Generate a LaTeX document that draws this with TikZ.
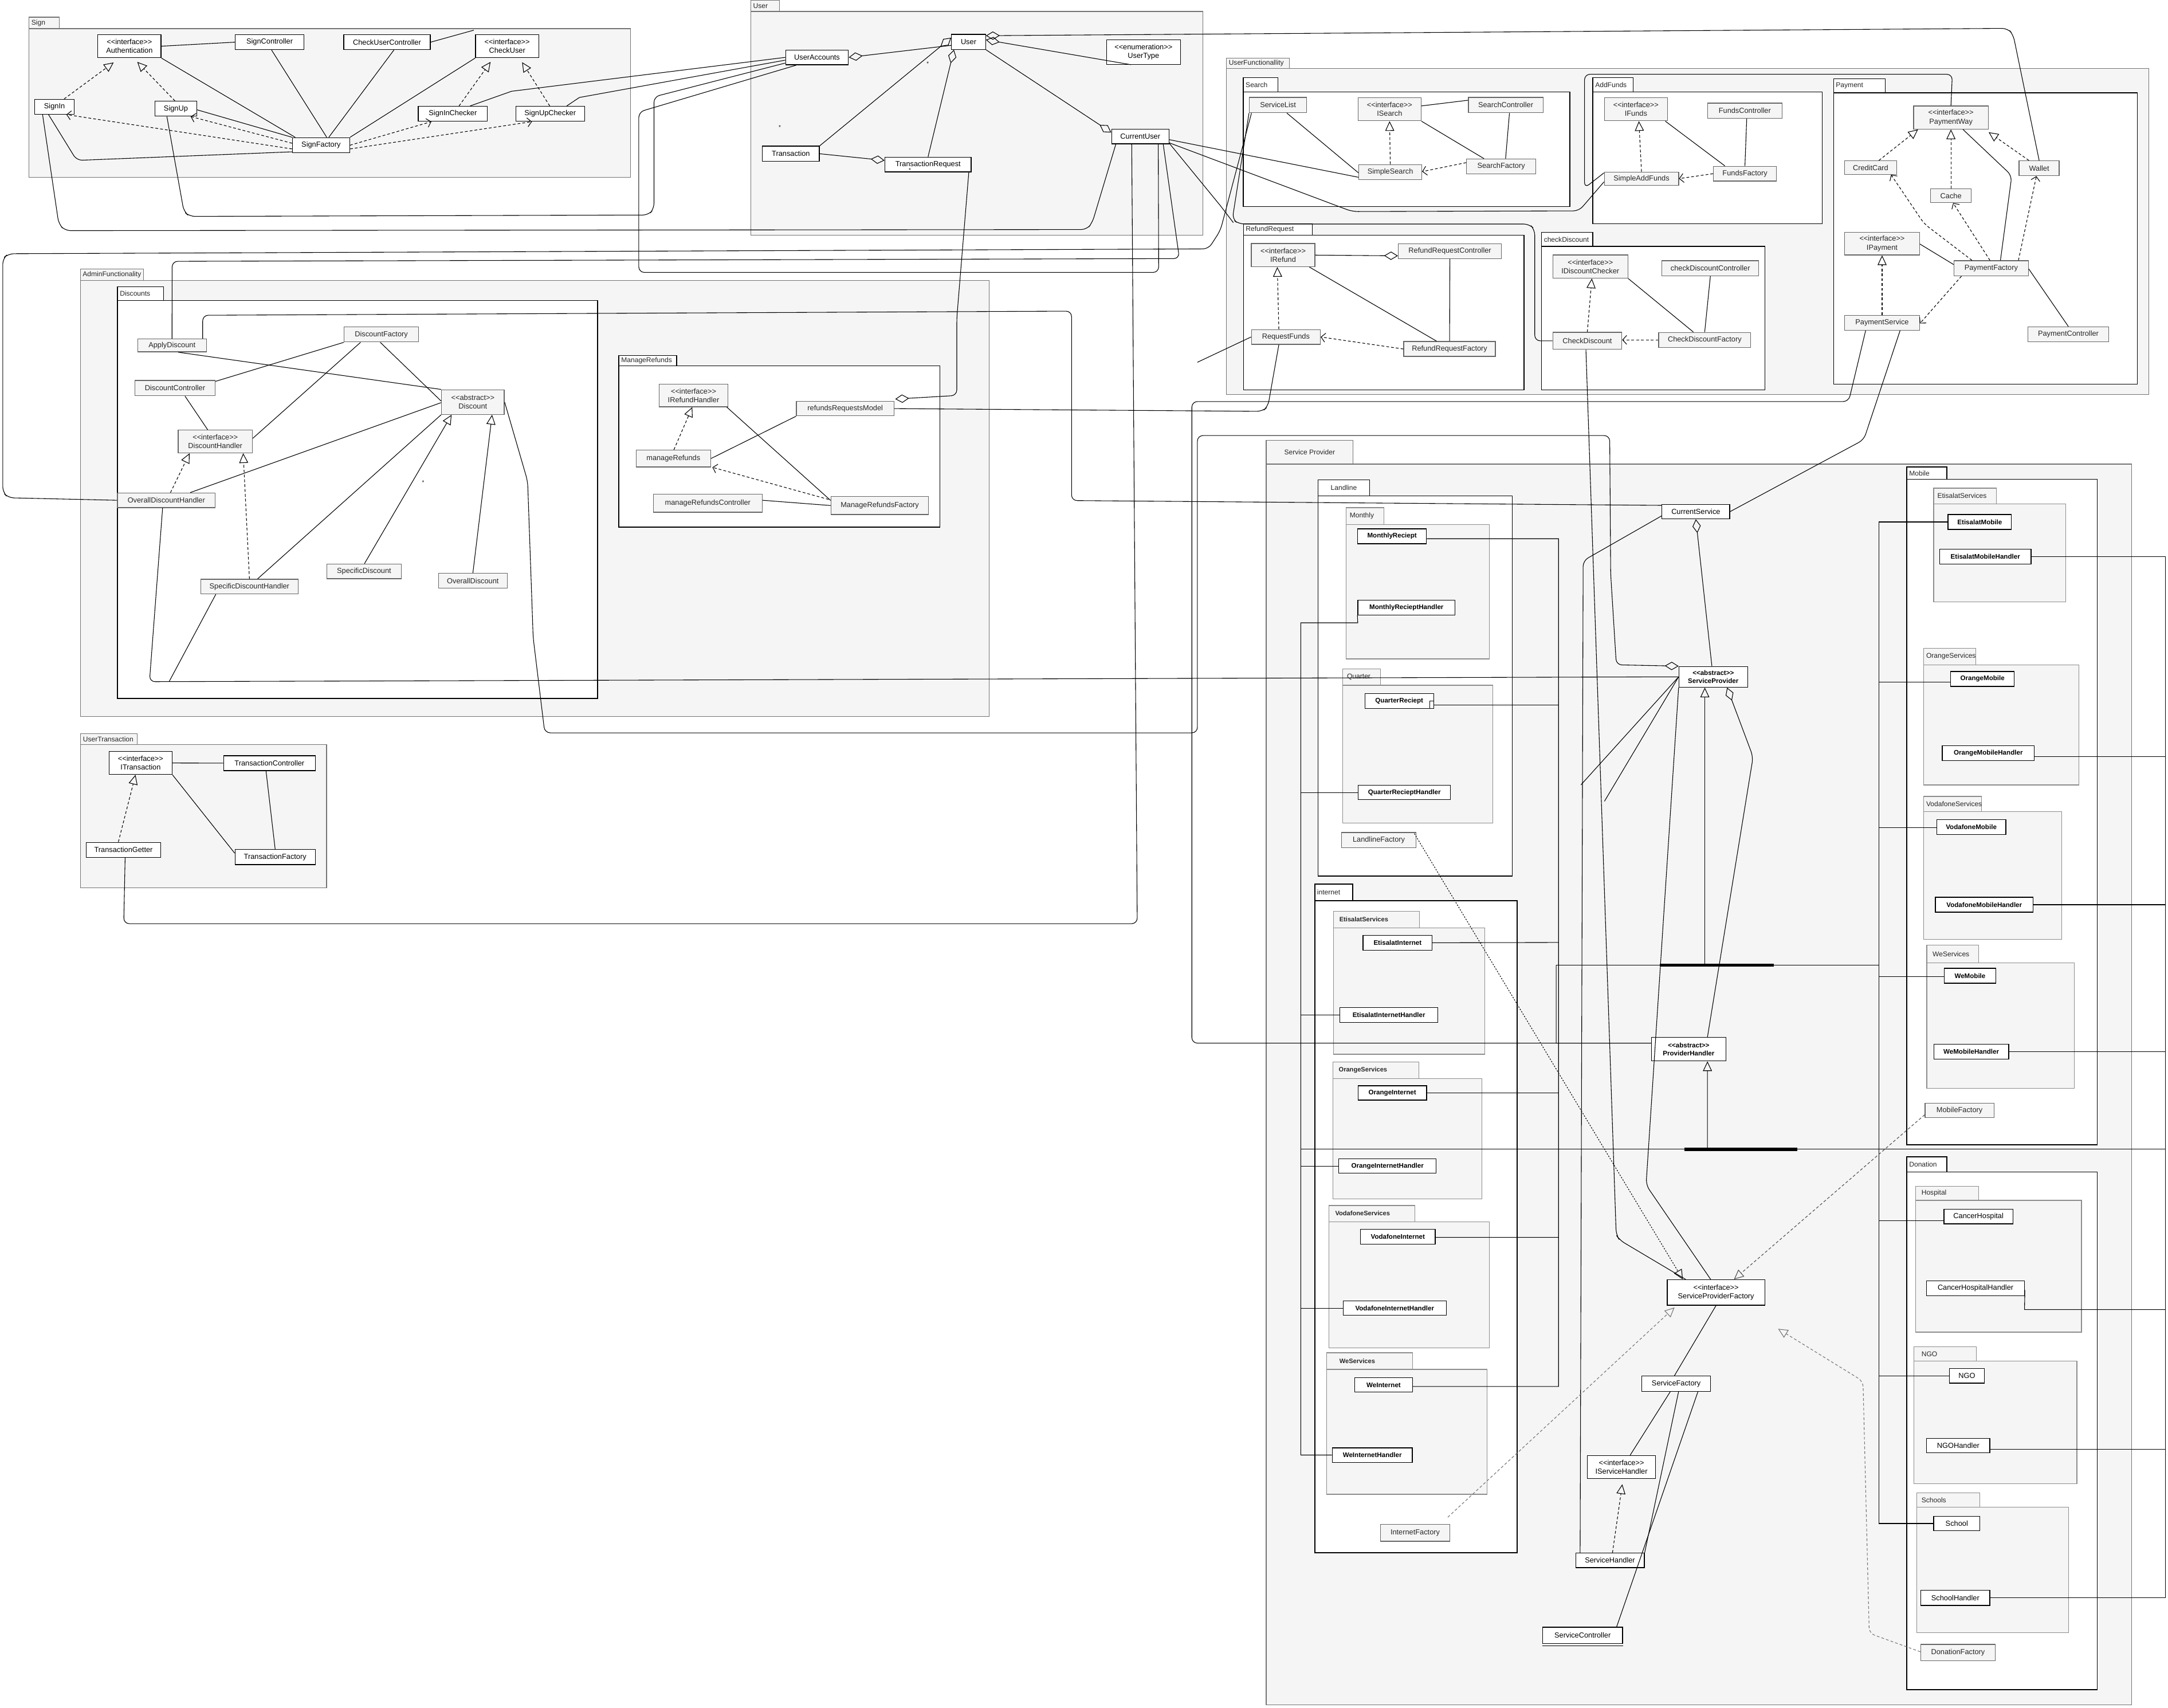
\documentclass[tikz,border=0pt]{standalone}
\usepackage{fontspec}
\setmainfont{Liberation Sans}
\usetikzlibrary{arrows.meta}
\newcommand{\stereo}[1]{<\kern0pt<#1>\kern0pt>}

\tikzset{
  pkg/.style={draw=black!55, fill=black!4, line width=0.5pt},
  subpkg/.style={draw=black, fill=white, line width=0.6pt},
  inpkg/.style={draw=black!45, fill=black!4, line width=0.5pt},
  tabtxt/.style={anchor=west, inner sep=1.5pt, text=black!85, font=\fontsize{5}{6}\selectfont},
  cls/.style={draw, fill=white, line width=0.55pt, inner sep=0.5pt, align=center, font=\fontsize{5.3}{6.3}\selectfont},
  gcls/.style={cls, draw=black!60, fill=black!4, text=black!85},
  bcls/.style={cls, font=\bfseries\fontsize{4.8}{5.8}\selectfont},
  real/.style={dash pattern=on 2pt off 1.5pt, -{Triangle[open, length=7pt, width=6.5pt]}},
  dotreal/.style={dash pattern=on 1pt off 1pt, -{Triangle[open, length=7pt, width=6.5pt]}},
  gen/.style={-{Triangle[open, length=7pt, width=6.5pt]}},
  dep/.style={dash pattern=on 2pt off 1.5pt, -{Straight Barb[length=3pt, width=6.5pt]}},
  agg/.style={{Diamond[open, length=10pt, width=6pt]}-},
  wire/.style={rounded corners=4pt},
  mult/.style={font=\fontsize{4}{4}\selectfont, inner sep=0pt},
}

\begin{document}
\begin{tikzpicture}[x=1pt, y=-1pt, line width=0.45pt]
\useasboundingbox (0,0) rectangle (1568,1235);

% ---------- packages ----------
\draw[pkg] (21,12.4) rectangle (43,20.7);
\draw[pkg] (21,20.7) rectangle (456,128.4);
\node[tabtxt] at (21,16.6) {Sign};

\draw[pkg] (543,0.3) rectangle (563.7,8.3);
\draw[pkg] (543,8.3) rectangle (870,170);
\node[tabtxt] at (543,4.4) {User};

\draw[pkg] (887,41.9) rectangle (932.4,49.6);
\draw[pkg] (887,49.6) rectangle (1554.2,285.4);
\node[tabtxt] at (887,45.8) {UserFunctionallity};
\draw[subpkg] (899.2,56.1) rectangle (924.3,66.4);
\draw[subpkg] (899.2,66.4) rectangle (1135.4,149.4);
\node[tabtxt] at (899.2,61.2) {Search};
\draw[subpkg] (1152,56.1) rectangle (1181.2,66.4);
\draw[subpkg] (1152,66.4) rectangle (1317.9,161.8);
\node[tabtxt] at (1152,61.2) {AddFunds};
\draw[subpkg] (1326.1,57) rectangle (1363.4,67.1);
\draw[subpkg] (1326.1,67.1) rectangle (1545.9,277.8);
\node[tabtxt] at (1326.1,62) {Payment};
\draw[subpkg] (899.3,161.8) rectangle (949.1,170);
\draw[subpkg] (899.3,170) rectangle (1102.3,281.9);
\node[tabtxt] at (899.3,165.9) {RefundRequest};
\draw[subpkg] (1114.9,168) rectangle (1152,178.2);
\draw[subpkg] (1114.9,178.2) rectangle (1276.5,281.9);
\node[tabtxt] at (1114.9,173.1) {checkDiscount};

\draw[pkg] (58.1,194.4) rectangle (103.8,202.9);
\draw[pkg] (58.1,202.9) rectangle (715.5,518.3);
\node[tabtxt] at (58.1,198.6) {AdminFunctionality};
\draw[subpkg] (85,207.5) rectangle (118.3,217.4);
\draw[subpkg] (85,217.4) rectangle (432.2,505.2);
\node[tabtxt] at (85,212.4) {Discounts};
\draw[subpkg] (447.6,257.2) rectangle (489.3,264.5);
\draw[subpkg] (447.6,264.5) rectangle (679.8,381.2);
\node[tabtxt] at (447.6,260.8) {ManageRefunds};

\draw[pkg] (58.3,530.6) rectangle (99.4,538.6);
\draw[pkg] (58.3,538.6) rectangle (236.2,642.2);
\node[tabtxt] at (58.3,534.6) {UserTransaction};

\draw[pkg] (915.8,318.5) rectangle (978.6,335.6);
\draw[pkg] (915.8,335.6) rectangle (1541.7,1233);
\node[tabtxt, anchor=center] at (947.2,327) {Service Provider};

\draw[subpkg] (953.2,347) rectangle (990.5,358.7);
\draw[subpkg] (953.2,358.7) rectangle (1093.8,633.6);
\node[tabtxt, anchor=center] at (971.9,352.9) {Landline};
\draw[inpkg] (973.5,367.1) rectangle (1001,379.2);
\draw[inpkg] (973.5,379.2) rectangle (1077.3,476.5);
\node[tabtxt] at (974.5,373.2) {Monthly};
\draw[inpkg] (971,483.8) rectangle (998.5,495.6);
\draw[inpkg] (971,495.6) rectangle (1079.7,595.4);
\node[tabtxt] at (972.5,489.7) {Quarter};

\draw[subpkg] (950.9,639.3) rectangle (978.4,651.4);
\draw[subpkg] (950.9,651.4) rectangle (1097.2,1122.9);
\node[tabtxt] at (950.9,645.3) {internet};
\draw[inpkg] (964.4,659) rectangle (1026.6,671);
\draw[inpkg] (964.4,671) rectangle (1073.7,762.4);
\node[tabtxt, font=\bfseries\fontsize{4.6}{5}\selectfont] at (967,665) {EtisalatServices};
\draw[inpkg] (964,768) rectangle (1026.2,780.1);
\draw[inpkg] (964,780.1) rectangle (1071.8,867);
\node[tabtxt, font=\bfseries\fontsize{4.6}{5}\selectfont] at (966.5,774) {OrangeServices};
\draw[inpkg] (961.1,871.8) rectangle (1023.2,883.5);
\draw[inpkg] (961.1,883.5) rectangle (1077.1,974.8);
\node[tabtxt, font=\bfseries\fontsize{4.6}{5}\selectfont] at (964,877.6) {VodafoneServices};
\draw[inpkg] (959.6,978.3) rectangle (1021.5,990.3);
\draw[inpkg] (959.6,990.3) rectangle (1075.4,1080.7);
\node[tabtxt, font=\bfseries\fontsize{4.6}{5}\selectfont] at (967,984.3) {WeServices};

\draw[subpkg] (1379.1,337.8) rectangle (1408.1,346.7);
\draw[subpkg] (1379.1,346.7) rectangle (1516.9,828);
\node[tabtxt] at (1379.1,342.2) {Mobile};
\draw[inpkg] (1398.5,353) rectangle (1444,364.5);
\draw[inpkg] (1398.5,364.5) rectangle (1494,435.2);
\node[tabtxt] at (1399.5,358.7) {EtisalatServices};
\draw[inpkg] (1391.4,468.8) rectangle (1428.9,480.9);
\draw[inpkg] (1391.4,480.9) rectangle (1503.6,567.7);
\node[tabtxt] at (1391.4,474.8) {OrangeServices};
\draw[inpkg] (1391.4,576) rectangle (1433.1,587.1);
\draw[inpkg] (1391.4,587.1) rectangle (1491.1,679.4);
\node[tabtxt] at (1391.4,581.5) {VodafoneServices};
\draw[inpkg] (1393.5,683.5) rectangle (1431.1,696.2);
\draw[inpkg] (1393.5,696.2) rectangle (1500.3,787.2);
\node[tabtxt] at (1396,689.8) {WeServices};

\draw[subpkg] (1379.1,836.7) rectangle (1408,847.7);
\draw[subpkg] (1379.1,847.7) rectangle (1516.7,1222);
\node[tabtxt] at (1379.1,842.2) {Donation};
\draw[inpkg] (1385.4,857.9) rectangle (1431,868.1);
\draw[inpkg] (1385.4,868.1) rectangle (1505.4,963.4);
\node[tabtxt] at (1388,863) {Hospital};
\draw[inpkg] (1384.2,974.1) rectangle (1429.5,984.3);
\draw[inpkg] (1384.2,984.3) rectangle (1502.1,1073);
\node[tabtxt] at (1388,979.2) {NGO};
\draw[inpkg] (1386.3,1079.8) rectangle (1431.9,1090);
\draw[inpkg] (1386.3,1090) rectangle (1496.1,1180.7);
\node[tabtxt] at (1388,1084.9) {Schools};

% ---------- Sign ----------
\node[cls, minimum width=45.7, minimum height=16.6] (auth) at (93.6,33.4) {\stereo{interface}\\Authentication};
\node[cls, minimum width=49.7, minimum height=10.8] (signctrl) at (195,30.5) {SignController};
\node[cls, minimum width=62.5, minimum height=10.8] (checkuserctrl) at (279.9,30.5) {CheckUserController};
\node[cls, minimum width=45.7, minimum height=16.6] (checkuser) at (366.8,33.4) {\stereo{interface}\\CheckUser};
\node[cls, minimum width=28.6, minimum height=10.8] (signin) at (39.4,77.2) {SignIn};
\node[cls, minimum width=30, minimum height=10.8] (signup) at (127.2,78.6) {SignUp};
\node[cls, minimum width=50, minimum height=10.8] (signinchecker) at (327.5,82.3) {SignInChecker};
\node[cls, minimum width=49.7, minimum height=10.8] (signupchecker) at (397.9,82.3) {SignUpChecker};
\node[cls, minimum width=41.4, minimum height=10.9] (signfactory) at (232.2,105) {SignFactory};

% ---------- User ----------
\node[cls, minimum width=45.4, minimum height=10.7] (useraccounts) at (590.9,41.5) {UserAccounts};
\node[cls, minimum width=24.6, minimum height=10.8] (user) at (700.5,30.3) {User};
\node[cls, minimum width=53.4, minimum height=17.8] (usertype) at (827,37.6) {\stereo{enumeration}\\UserType};
\node[cls, minimum width=41.2, minimum height=11] (transaction) at (572,111.2) {Transaction};
\node[cls, minimum width=62.4, minimum height=10.6] (transreq) at (671.2,119) {TransactionRequest};
\node[cls, minimum width=41.4, minimum height=10.5] (currentuser) at (824.7,98.8) {CurrentUser};

% ---------- UserFunctionallity ----------
\node[gcls, minimum width=41.4, minimum height=11] (servicelist) at (924.3,76) {ServiceList};
\node[gcls, minimum width=45.5, minimum height=16.7] (isearch) at (1005,79) {\stereo{interface}\\ISearch};
\node[gcls, minimum width=54, minimum height=11] (searchctrl) at (1089,76) {SearchController};
\node[gcls, minimum width=45.5, minimum height=11] (simplesearch) at (1005.5,124.5) {SimpleSearch};
\node[gcls, minimum width=50, minimum height=10.8] (searchfactory) at (1085.7,120.4) {SearchFactory};
\node[gcls, minimum width=45.5, minimum height=16.7] (ifunds) at (1183.2,79) {\stereo{interface}\\IFunds};
\node[gcls, minimum width=54, minimum height=11] (fundsctrl) at (1261.9,80.1) {FundsController};
\node[gcls, minimum width=53.7, minimum height=9.6] (simpleaddfunds) at (1187.2,129.2) {SimpleAddFunds};
\node[gcls, minimum width=45.5, minimum height=10.7] (fundsfactory) at (1262,125.6) {FundsFactory};
\node[gcls, minimum width=54, minimum height=16.7] (paymentway) at (1411,85) {\stereo{interface}\\PaymentWay};
\node[gcls, minimum width=37.5, minimum height=9.8] (creditcard) at (1352.9,121.2) {CreditCard};
\node[gcls, minimum width=29, minimum height=10.8] (wallet) at (1474.8,121.7) {Wallet};
\node[gcls, minimum width=29.3, minimum height=9.9] (cache) at (1411,141.6) {Cache};
\node[gcls, minimum width=54.2, minimum height=16.4] (ipayment) at (1361.2,176.2) {\stereo{interface}\\IPayment};
\node[gcls, minimum width=53.8, minimum height=10.9] (paymentfactory) at (1440.1,194) {PaymentFactory};
\node[gcls, minimum width=54.2, minimum height=10.8] (paymentservice) at (1361.2,233.4) {PaymentService};
\node[gcls, minimum width=58.3, minimum height=10.7] (paymentctrl) at (1495.9,241.7) {PaymentController};
\node[gcls, minimum width=54.2, minimum height=16.7] (idiscountchecker) at (1150.2,192.8) {\stereo{interface}\\IDiscountChecker};
\node[gcls, minimum width=70, minimum height=11] (checkdiscountctrl) at (1237,194) {checkDiscountController};
\node[gcls, minimum width=49.9, minimum height=12.3] (checkdiscount) at (1148,246.5) {CheckDiscount};
\node[gcls, minimum width=66.5, minimum height=10.8] (checkdiscountfactory) at (1232.9,245.8) {CheckDiscountFactory};
\node[gcls, minimum width=45.9, minimum height=16.7] (irefund) at (928,184.5) {\stereo{interface}\\IRefund};
\node[gcls, minimum width=74.6, minimum height=10.8] (refundrequestctrl) at (1048.6,181.6) {RefundRequestController};
\node[gcls, minimum width=49.8, minimum height=10.7] (requestfunds) at (930,243.7) {RequestFunds};
\node[gcls, minimum width=66.3, minimum height=10.8] (refundrequestfactory) at (1048.4,252.4) {RefundRequestFactory};

% ---------- AdminFunctionality ----------
\node[gcls, minimum width=49.7, minimum height=9.3] (applydiscount) at (124.4,249.8) {ApplyDiscount};
\node[gcls, minimum width=53.7, minimum height=10.8] (discountfactory) at (275.8,241.9) {DiscountFactory};
\node[gcls, minimum width=58, minimum height=11] (discountctrl) at (126.6,280.7) {DiscountController};
\node[gcls, minimum width=45.4, minimum height=17.8] (discount) at (342,290.8) {\stereo{abstract}\\Discount};
\node[gcls, minimum width=53.7, minimum height=16.5] (discounthandler) at (155.7,319.3) {\stereo{interface}\\DiscountHandler};
\node[gcls, minimum width=70.6, minimum height=10.6] (overalldiscounthandler) at (120.3,361.8) {OverallDiscountHandler};
\node[gcls, minimum width=70.4, minimum height=10.6] (specificdiscounthandler) at (180.4,424.2) {SpecificDiscountHandler};
\node[gcls, minimum width=54, minimum height=10.6] (specificdiscount) at (263.3,413.2) {SpecificDiscount};
\node[gcls, minimum width=49.7, minimum height=10.6] (overalldiscount) at (342,420) {OverallDiscount};
\node[gcls, minimum width=49.9, minimum height=16.3] (irefundhandler) at (501.6,286) {\stereo{interface}\\IRefundHandler};
\node[gcls, minimum width=70.6, minimum height=10.5] (refundsmodel) at (611.3,295.5) {refundsRequestsModel};
\node[gcls, minimum width=53.9, minimum height=12.2] (managerefunds) at (487,331.6) {manageRefunds};
\node[gcls, minimum width=78.8, minimum height=13] (managerefundsctrl) at (511.9,363.9) {manageRefundsController};
\node[gcls, minimum width=70.6, minimum height=13.1] (managerefundsfactory) at (636.3,365.6) {ManageRefundsFactory};

% ---------- UserTransaction ----------
\node[cls, minimum width=45.5, minimum height=16.5] (itransaction) at (101.7,551.8) {\stereo{interface}\\ITransaction};
\node[cls, minimum width=66.3, minimum height=10.8] (transactionctrl) at (194.9,551.9) {TransactionController};
\node[cls, minimum width=53.8, minimum height=10.8] (transactiongetter) at (89.3,614.6) {TransactionGetter};
\node[cls, minimum width=58, minimum height=10.9] (transactionfactory) at (199,619.8) {TransactionFactory};

% ---------- Service Provider ----------
\node[bcls, minimum width=49.7, minimum height=10.8] (monthlyreciept) at (1006.8,387.8) {MonthlyReciept};
\node[bcls, minimum width=70.4, minimum height=10.8] (monthlyhandler) at (1017.2,439.4) {MonthlyRecieptHandler};
\node[bcls, minimum width=49.7, minimum height=10.6] (quarterreciept) at (1012,507) {QuarterReciept};
\node[bcls, minimum width=66.6, minimum height=10.4] (quarterhandler) at (1015.7,573.1) {QuarterRecieptHandler};
\node[gcls, minimum width=53.9, minimum height=11] (landlinefactory) at (997.2,607.6) {LandlineFactory};
\node[bcls, minimum width=49.9, minimum height=10.8] (etisalatinternet) at (1010.8,681.8) {EtisalatInternet};
\node[bcls, minimum width=70.8, minimum height=10.8] (etisalatinternethandler) at (1004.5,734.1) {EtisalatInternetHandler};
\node[bcls, minimum width=49.7, minimum height=10.4] (orangeinternet) at (1007,790.4) {OrangeInternet};
\node[bcls, minimum width=70.4, minimum height=10.5] (orangeinternethandler) at (1003.5,843.3) {OrangeInternetHandler};
\node[bcls, minimum width=54.1, minimum height=10.8] (vodafoneinternet) at (1011,894.3) {VodafoneInternet};
\node[bcls, minimum width=74.6, minimum height=10.4] (vodafoneinternethandler) at (1008.7,946.1) {VodafoneInternetHandler};
\node[bcls, minimum width=41.6, minimum height=10.4] (weinternet) at (1000.7,1001.6) {WeInternet};
\node[bcls, minimum width=57.9, minimum height=10.5] (weinternethandler) at (992.5,1052.3) {WeInternetHandler};
\node[gcls, minimum width=50.1, minimum height=12.4] (internetfactory) at (1023.5,1108.5) {InternetFactory};

\node[bcls, minimum width=45.9, minimum height=10.8] (etisalatmobile) at (1431.8,377.5) {EtisalatMobile};
\node[bcls, minimum width=66.2, minimum height=10.8] (etisalatmobilehandler) at (1435.9,402.5) {EtisalatMobileHandler};
\node[bcls, minimum width=45.9, minimum height=10.8] (orangemobile) at (1433.8,491) {OrangeMobile};
\node[bcls, minimum width=66.6, minimum height=10.8] (orangemobilehandler) at (1438,544.6) {OrangeMobileHandler};
\node[bcls, minimum width=50, minimum height=10.8] (vodafonemobile) at (1425.7,598.2) {VodafoneMobile};
\node[bcls, minimum width=70.7, minimum height=10.8] (vodafonemobilehandler) at (1435.1,654.3) {VodafoneMobileHandler};
\node[bcls, minimum width=37.5, minimum height=10.8] (wemobile) at (1424.8,705.7) {WeMobile};
\node[bcls, minimum width=54.2, minimum height=10.8] (wemobilehandler) at (1425.7,760.5) {WeMobileHandler};
\node[gcls, minimum width=49.8, minimum height=10.2] (mobilefactory) at (1417.2,803) {MobileFactory};

\node[cls, minimum width=49.8, minimum height=10.7] (cancerhospital) at (1430.9,879.8) {CancerHospital};
\node[cls, minimum width=70.8, minimum height=10.9] (cancerhospitalhandler) at (1428.8,931.7) {CancerHospitalHandler};
\node[cls, minimum width=25.4, minimum height=10.7] (ngo) at (1422.5,995) {NGO};
\node[cls, minimum width=45.7, minimum height=10.5] (ngohandler) at (1416.3,1045.4) {NGOHandler};
\node[cls, minimum width=33.4, minimum height=10.4] (school) at (1415.2,1101.8) {School};
\node[cls, minimum width=49.9, minimum height=10.9] (schoolhandler) at (1414.2,1155.6) {SchoolHandler};
\node[gcls, minimum width=53.8, minimum height=11.9] (donationfactory) at (1416.1,1195.2) {DonationFactory};

\node[cls, minimum width=49, minimum height=10.5] (currentservice) at (1226.5,370) {CurrentService};
\node[bcls, minimum width=49.6, minimum height=15] (serviceprovider) at (1239.1,489.5) {\stereo{abstract}\\ServiceProvider};
\node[bcls, minimum width=54, minimum height=17] (providerhandler) at (1221.3,758.8) {\stereo{abstract}\\ProviderHandler};
\node[cls, minimum width=70.5, minimum height=18.4] (spfactory) at (1241.1,934.7) {\stereo{interface}\\ServiceProviderFactory};
\node[cls, minimum width=49.8, minimum height=11] (servicefactory) at (1212.3,1000.7) {ServiceFactory};
\node[cls, minimum width=49.5, minimum height=16.5] (iservicehandler) at (1172.7,1060.9) {\stereo{interface}\\IServiceHandler};
\node[cls, minimum width=49.6, minimum height=10.5] (servicehandler) at (1164.4,1128.5) {ServiceHandler};
\node[cls, minimum width=57.9, minimum height=11.7] (servicecontroller) at (1144.6,1182.7) {ServiceController};
\draw[line width=0.5pt] ([shift={(0,1.3)}]servicecontroller.south west) -- ([shift={(0,1.3)}]servicecontroller.south east);
\draw[line width=0.5pt] (1034.2,507.1) rectangle (1037,512.3);

\node[mult] at (564,92) {*};
\node[mult] at (671,46) {*};
\node[mult] at (658,123) {*};
\node[mult] at (306,349) {*};

% ---------- Sign connectors ----------
\draw (auth.east) -- (signctrl.west);
\draw (checkuserctrl.east) -- ([shift={(-1,-3)}]checkuser.north west);
\draw[real] ([xshift=7]signin.north) -- ([shift={(-11.4,3.2)}]auth.south);
\draw[real] ([xshift=-0.7]signup.north) -- ([shift={(5.7,2.8)}]auth.south);
\draw[real] ([xshift=4.5]signinchecker.north) -- ([shift={(-12,2.8)}]checkuser.south);
\draw[real] ([xshift=-0.3]signupchecker.north) -- ([shift={(10.8,3)}]checkuser.south);
\draw[dep] ([shift={(0,2.7)}]signfactory.west) -- ([xshift=8.6]signin.south);
\draw[dep] ([shift={(0,-1.4)}]signfactory.west) -- ([xshift=10.7]signup.south);
\draw[dep] (signfactory.east) -- ([xshift=-15.5]signinchecker.south);
\draw[dep] ([shift={(0,2.7)}]signfactory.east) -- ([xshift=-13.2]signupchecker.south);
\draw (auth.south east) -- ([xshift=-18.7]signfactory.north);
\draw ([xshift=1.4]signctrl.south) -- ([xshift=4.1]signfactory.north);
\draw ([xshift=5]checkuserctrl.south) -- ([xshift=5.6]signfactory.north);
\draw (checkuser.south west) -- (signfactory.north east);
\draw ([shift={(0,0.8)}]signup.east) -- (signfactory.north west);
\draw[wire] ([xshift=-4.3]signin.south) -- (55.5,116) -- ([shift={(0,4.8)}]signfactory.west);
\draw[wire] ([xshift=-8.6]signin.south) -- (42.5,162) -- (47,166.8) -- (786,166) -- (790,161) -- ([xshift=-17.7]currentuser.south);
\draw[wire] ([xshift=-6.5]signup.south) -- (133,153) -- (137,156.5) -- (469,155.5) -- (473,151) -- (473,70) -- ([shift={(0,4.1)}]useraccounts.west);
\draw ([xshift=12.5]signinchecker.north) -- (370,66) -- (useraccounts.west);
\draw ([xshift=12]signupchecker.north) -- (419,70.5) -- ([shift={(0,2)}]useraccounts.west);

% ---------- User connectors ----------
\draw[agg] (useraccounts.east) -- ([shift={(0,2.5)}]user.west);
\draw[agg] ([shift={(0,-3)}]user.west) -- (transaction.north east);
\draw[agg] ([xshift=2]user.south west) -- (transreq.north);
\draw[agg] ([shift={(0,-3)}]transreq.west) -- (transaction.east);
\draw[agg] ([shift={(0,-3)}]currentuser.west) -- (user.south east);
\draw[agg] ([shift={(0,-1.5)}]user.east) -- ([xshift=-9]usertype.south);
\draw[agg, wire] ([shift={(0,-4.5)}]user.east) -- (1452,20.5) -- (1456,25) -- (wallet.north);
\draw[wire] ([xshift=-15]useraccounts.south) -- (462,81) -- (462,197) -- (838,197) -- ([xshift=13]currentuser.south);

% ---------- UserFunctionallity connectors ----------
\draw ([xshift=6.4]servicelist.south) -- ([shift={(0,0.5)}]simplesearch.west);
\draw ([shift={(0,-2.4)}]isearch.east) -- ([shift={(0,-3.5)}]searchctrl.west);
\draw (isearch.south east) -- ([xshift=-12.4]searchfactory.north);
\draw ([xshift=2.7]searchctrl.south) -- ([xshift=3.2]searchfactory.north);
\draw[real] (simplesearch.north) -- (isearch.south);
\draw[dep] ([shift={(0,-2.8)}]searchfactory.west) -- ([shift={(0,-0.4)}]simplesearch.east);
\draw ([shift={(0,2.2)}]currentuser.east) -- ([shift={(0,3.7)}]simplesearch.west);
\draw[wire] ([shift={(0,4.5)}]currentuser.east) -- (978,153) -- (1142,152.5) -- ([shift={(0,2.3)}]simpleaddfunds.west);
\draw[wire] ([shift={(0,-4.2)}]simpleaddfunds.west) -- (1146,136) -- (1146,53.7) -- (1412,53.7) -- (paymentway.north);
\draw[real] (simpleaddfunds.north) -- ([xshift=2.1]ifunds.south);
\draw ([xshift=21.2]ifunds.south) -- ([xshift=-14.5]fundsfactory.north);
\draw ([xshift=1.4]fundsctrl.south) -- (fundsfactory.north);
\draw[dep] (fundsfactory.west) -- (simpleaddfunds.east);
\draw[real] ([xshift=6]creditcard.north) -- ([xshift=-23.8]paymentway.south);
\draw[real] (cache.north) -- (paymentway.south);
\draw[real] ([xshift=-7.4]wallet.north) -- ([shift={(0,2)}]paymentway.south east);
\draw[wire] ([xshift=8.7]paymentway.south) -- (1455,127) -- ([xshift=6.7]paymentfactory.north);
\draw[dep, wire] ([xshift=-13.9]paymentfactory.north) -- (1391.6,161.8) -- ([xshift=14.8]creditcard.south);
\draw[dep] ([xshift=-0.9]paymentfactory.north) -- ([xshift=1.6]cache.south);
\draw[dep] ([xshift=19.7]paymentfactory.north) -- ([xshift=-2]wallet.south);
\draw ([shift={(0,0.3)}]ipayment.east) -- ([shift={(0,-2.7)}]paymentfactory.west);
\draw[dep] ([xshift=-21.5]paymentfactory.south) -- ([shift={(0,0.5)}]paymentservice.east);
\draw[real] (paymentservice.north) -- (ipayment.south);
\draw ([shift={(0,0.5)}]paymentfactory.east) -- (paymentctrl.north);
\draw[real] (checkdiscount.north) -- ([xshift=1.1]idiscountchecker.south);
\draw (idiscountchecker.south east) -- ([xshift=-8.2]checkdiscountfactory.north);
\draw (checkdiscountctrl.south) -- (checkdiscountfactory.north);
\draw[dep] (checkdiscountfactory.west) -- ([shift={(0,-0.7)}]checkdiscount.east);
\draw[agg] ([shift={(0,3.4)}]refundrequestctrl.west) -- (irefund.east);
\draw ([xshift=19]irefund.south) -- ([xshift=-9.4]refundrequestfactory.north);
\draw (refundrequestctrl.south) -- (refundrequestfactory.north);
\draw[real] ([xshift=-5.1]requestfunds.north) -- ([xshift=-4.2]irefund.south);
\draw[dep] (refundrequestfactory.west) -- (requestfunds.east);
\draw[wire] (servicelist.south west) -- (891.3,158.5) -- (896,162) -- (1106,162) -- (1110,166) -- (1110,246.5) -- (checkdiscount.west);
\draw ([shift={(0,4.8)}]currentuser.east) -- (882.6,148.7) -- (892,161);
\draw (requestfunds.west) -- (866,262);
\draw[wire] ([xshift=-11.9]paymentservice.south) -- (1337,290.4) -- (862,290.4) -- (862,754.4) -- ([shift={(0,-4.4)}]providerhandler.west);

% ---------- AdminFunctionality connectors ----------
\draw (discountfactory.south west) -- ([shift={(0,-4.9)}]discountctrl.east);
\draw ([xshift=-15]discountfactory.south) -- ([shift={(0,-2.3)}]discounthandler.east);
\draw ([xshift=-0.8]discountfactory.south) -- ([shift={(0,-0.8)}]discount.west);
\draw ([xshift=4.4]applydiscount.south) -- (discount.north west);
\draw ([xshift=7.2]discountctrl.south) -- ([xshift=-5.5]discounthandler.north);
\draw[real] ([xshift=3]overalldiscounthandler.north) -- ([xshift=-18.6]discounthandler.south);
\draw[real] (specificdiscounthandler.north) -- ([xshift=20.2]discounthandler.south);
\draw ([xshift=17.3]overalldiscounthandler.north) -- ([shift={(0,0.4)}]discount.west);
\draw ([xshift=5.9]specificdiscounthandler.north) -- (discount.south west);
\draw[gen] ([xshift=0.3]specificdiscount.north) -- ([xshift=-15.4]discount.south);
\draw[gen] (overalldiscount.north) -- ([xshift=13.9]discount.south);
\draw[real] ([xshift=0.4]managerefunds.north) -- ([xshift=-0.9]irefundhandler.south);
\draw ([xshift=-1.2]irefundhandler.south east) -- ([shift={(0,-3.7)}]managerefundsfactory.west);
\draw (managerefunds.east) -- (refundsmodel.south west);
\draw[dep] ([shift={(-1.4,-4.4)}]managerefundsfactory.west) -- ([xshift=1]managerefunds.south east);
\draw ([shift={(0,-2.1)}]managerefundsctrl.east) -- (managerefundsfactory.west);
\draw[agg, wire] ([shift={(0.6,-6.9)}]refundsmodel.east) -- (692,286) -- (692,230) -- ([xshift=-2]transreq.south east);
\draw[wire] (refundsmodel.east) -- (913,297.5) -- (917,294) -- ([xshift=-5.1]requestfunds.south);
\draw[wire] (overalldiscounthandler.west) -- (6,360) -- (2,356) -- (2,187) -- (6,183.5) -- (874,180) -- (882.6,166.7) -- ([xshift=1.8]servicelist.south west);
\draw[wire] (applydiscount.north) -- (124.5,189) -- (853,187) -- ([xshift=16.6]currentuser.south);
\draw[wire] ([xshift=22.2]applydiscount.north) -- (146.6,228) -- (775,225) -- (775,362) -- ([shift={(0,1)}]currentservice.north west);
\draw[agg, wire] (serviceprovider.north west) -- (1169,480.8) -- (1164.9,415) -- (1164.2,315) -- (866,315) -- (866,530) -- (394,530) -- (385.6,461) -- (381.6,348) -- (discount.east);
\draw[wire] ([xshift=-2.7]overalldiscounthandler.south) -- (108.1,493) -- (1205,489.5) -- (serviceprovider.west);
\draw ([xshift=-24.3]specificdiscounthandler.south) -- (122.4,492.8);

% ---------- UserTransaction connectors ----------
\draw (itransaction.east) -- (transactionctrl.west);
\draw (itransaction.south east) -- ([shift={(0,-2.8)}]transactionfactory.west);
\draw ([xshift=-2.5]transactionctrl.south) -- (transactionfactory.north);
\draw[real] ([xshift=-3.7]transactiongetter.north) -- ([xshift=-3.7]itransaction.south);
\draw[wire] ([xshift=1.2]transactiongetter.south) -- (89.5,668) -- (822.5,668) -- ([xshift=-6.2]currentuser.south);

% ---------- Service Provider connectors ----------
\draw[agg] (currentservice.south) -- ([xshift=-1]serviceprovider.north);
\draw[wire] ([shift={(0,3.1)}]currentservice.west) -- (1145,405.5) -- (1142.8,1123.3);
\draw[wire] (currentservice.east) -- (1348,318) -- ([xshift=13]paymentservice.south);
\draw[wire] ([xshift=-1]checkdiscount.south) -- (1168.9,893.1) -- (1171.3,896.8) -- ([xshift=-22]spfactory.north);
\draw[wire] (serviceprovider.south west) -- (1190.5,857) -- ([xshift=-3.9]spfactory.north);
\draw (serviceprovider.west) -- (1143.4,567.6);
\draw (serviceprovider.west) -- (1160.4,579.5);
\draw[agg, wire] ([xshift=10]serviceprovider.south) -- (1267.9,547.4) -- ([xshift=13.6]providerhandler.north);
\draw[gen] (1233,698) -- ([xshift=-6.1]serviceprovider.south);
\draw (1125.5,698) -- (1359.1,698);
\draw[line width=2.2pt] (1200.5,698) -- (1283,698);
\draw (1125.5,698) -- (1125.5,754.4) -- ([shift={(0,-4.4)}]providerhandler.west);

% products
\draw ([shift={(0,1.8)}]monthlyreciept.east) -- (1127.2,389.6) -- (1127.2,1002.7) -- ([shift={(0,1.1)}]weinternet.east);
\draw ([shift={(0,2.7)}]quarterreciept.east) -- (1127.2,509.7);
\draw (etisalatinternet.east) -- (1127.2,681.6);
\draw (orangeinternet.east) -- (1127.2,790.4);
\draw ([shift={(0,0.6)}]vodafoneinternet.east) -- (1127.2,894.9);
\draw (etisalatmobile.west) -- (1359.1,377.5) -- (1359.1,1101.8) -- (school.west);
\draw ([shift={(0,2.2)}]orangemobile.west) -- (1359.1,493.2);
\draw ([shift={(0,0.3)}]vodafonemobile.west) -- (1359.1,598.5);
\draw ([shift={(0,0.6)}]wemobile.west) -- (1359.1,706.3);
\draw ([shift={(0,2.9)}]cancerhospital.west) -- (1359.1,882.7);
\draw (ngo.west) -- (1359.1,995);

% handlers
\draw (monthlyhandler.south west) -- (982,450.4) -- (940.8,450.4) -- (940.8,1052.3) -- (weinternethandler.west);
\draw (quarterhandler.west) -- (940.8,573.1);
\draw (etisalatinternethandler.west) -- (940.8,734.1);
\draw (orangeinternethandler.west) -- (940.8,843.3);
\draw (vodafoneinternethandler.west) -- (940.8,946.1);
\draw (etisalatmobilehandler.east) -- (1566.3,402.5) -- (1566.3,1155.6) -- (schoolhandler.east);
\draw ([shift={(0,2.5)}]orangemobilehandler.east) -- (1566.3,547.1);
\draw (vodafonemobilehandler.east) -- (1566.3,654.3);
\draw (wemobilehandler.east) -- (1566.3,760.5);
\draw ([shift={(0,1.3)}]cancerhospitalhandler.east) -- (1464.2,947.1) -- (1566.3,947.1);
\draw ([shift={(0,2.8)}]ngohandler.east) -- (1566.3,1048.2);
\draw (940.8,831.2) -- (1566.3,831.2);
\draw[line width=2.2pt] (1218.1,831.2) -- (1300,831.2);
\draw[gen] (1234.9,831.2) -- ([xshift=13.6]providerhandler.south);

% factories
\draw[dotreal] ([shift={(-1.5,1)}]landlinefactory.north east) -- ([xshift=-24]spfactory.north);
\draw[real, black!70] ([shift={(0,3.2)}]mobilefactory.west) -- ([xshift=13]spfactory.north);
\draw[real, black!55] ([shift={(-1.7,-4.8)}]internetfactory.north east) -- ([shift={(5.5,1.4)}]spfactory.south west);
\coordinate (dontip) at (1286,961);
\draw[real, black!55, wire] ([shift={(0,-0.6)}]donationfactory.west) -- (1351.9,1181.2) -- (1347.4,998.9) -- (dontip);
\draw (spfactory.south) -- ([xshift=-1.3]servicefactory.north);
\draw ([xshift=-4.3]servicefactory.south) -- ([xshift=6.3]iservicehandler.north);
\draw ([xshift=1.7]servicefactory.south) -- (servicehandler.north east);
\draw ([xshift=15.7]servicefactory.south) -- ([xshift=24.6]servicecontroller.north);
\draw[real] ([xshift=1.8]servicehandler.north) -- ([shift={(0.6,4)}]iservicehandler.south);

\end{tikzpicture}
\end{document}
